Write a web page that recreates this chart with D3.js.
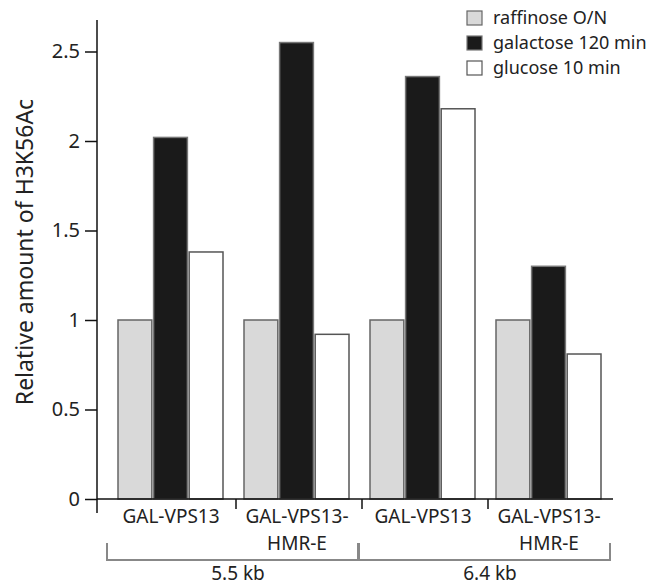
<!DOCTYPE html>
<html>
<head>
<meta charset="utf-8">
<script src="https://cdn.jsdelivr.net/npm/d3@7/dist/d3.min.js"></script>
<style>
  body { margin: 0; background: #fff; }
  text { font-family: "Noto Sans", "Open Sans", sans-serif; fill: #222; }
</style>
</head>
<body>
<div id="chart"></div>
<script>
// values
var groups = ["g1", "g2", "g3", "g4"];
var groupLabels = [["GAL-VPS13"], ["GAL-VPS13-", "HMR-E"], ["GAL-VPS13"], ["GAL-VPS13-", "HMR-E"]];
var series = ["raffinose O/N", "galactose 120 min", "glucose 10 min"];
var raffinose = [1.0, 1.0, 1.0, 1.0];
var galactose = [2.02, 2.55, 2.36, 1.30];
var glucose = [1.38, 0.92, 2.18, 0.81];
var brackets = [{label: "5.5 kb", from: 0, to: 1}, {label: "6.4 kb", from: 2, to: 3}];
var yTicks = [0, 0.5, 1, 1.5, 2, 2.5];

var fills = ["#d9d9d9", "#1a1a1a", "#ffffff"];
var strokes = ["#666", "#777", "#555"];

var width = 671, height = 586;
var svg = d3.select("#chart").append("svg")
    .attr("width", width)
    .attr("height", height);

var axisX = 97, baseY = 499;

var yScale = d3.scaleLinear().domain([0, 2.5]).range([baseY, 51.5]);
var xScale = d3.scaleBand().domain(groups).range([107, 611]).paddingInner(0);
var innerScale = d3.scaleBand().domain(series).range([11, 116]).paddingInner(0.05);

// bars
var rows = groups.map(function (g, i) {
    return {group: g, values: [raffinose[i], galactose[i], glucose[i]]};
});

var groupG = svg.selectAll(".grp")
    .data(rows)
    .enter()
    .append("g")
    .attr("class", "grp")
    .attr("transform", function (d) { return "translate(" + xScale(d.group) + ",0)"; });

groupG.selectAll("rect")
    .data(function (d) {
        return d.values.map(function (v, j) { return {s: series[j], v: v, j: j}; });
    })
    .enter()
    .append("rect")
    .attr("x", function (d) { return innerScale(d.s); })
    .attr("y", function (d) { return yScale(d.v); })
    .attr("width", innerScale.bandwidth())
    .attr("height", function (d) { return yScale(0) - yScale(d.v); })
    .attr("fill", function (d) { return fills[d.j]; })
    .attr("stroke", function (d) { return strokes[d.j]; })
    .attr("stroke-width", 1.5);

// y axis
var yAxis = svg.append("g")
    .attr("transform", "translate(" + axisX + ",0)")
    .call(d3.axisLeft(yScale).tickValues(yTicks).tickFormat(d3.format("")).tickSize(12).tickPadding(5).tickSizeOuter(0));
yAxis.select(".domain").remove();
yAxis.selectAll(".tick line").attr("stroke", "#111").attr("stroke-width", 1.5);
yAxis.selectAll(".tick text")
    .style("font-size", "20px")
    .attr("fill", "#222");

svg.append("line")
    .attr("x1", axisX).attr("x2", axisX)
    .attr("y1", 20).attr("y2", baseY + 14)
    .attr("stroke", "#111").attr("stroke-width", 1.5);

// x axis line and separators
svg.append("line")
    .attr("x1", axisX).attr("x2", 613)
    .attr("y1", baseY).attr("y2", baseY)
    .attr("stroke", "#111").attr("stroke-width", 1.5);

svg.selectAll(".sep")
    .data(groups.slice(1))
    .enter()
    .append("line")
    .attr("class", "sep")
    .attr("x1", function (d) { return xScale(d) + 3; })
    .attr("x2", function (d) { return xScale(d) + 3; })
    .attr("y1", baseY)
    .attr("y2", baseY + 10)
    .attr("stroke", "#111").attr("stroke-width", 1.5);

// group labels
var labelG = svg.selectAll(".glabel")
    .data(groups)
    .enter()
    .append("text")
    .attr("class", "glabel")
    .attr("text-anchor", "middle")
    .style("font-size", "19px");

labelG.selectAll("tspan")
    .data(function (d, i) { return groupLabels[i].map(function (t) { return {t: t, g: d}; }); })
    .enter()
    .append("tspan")
    .attr("x", function (d) { return xScale(d.g) + xScale.bandwidth() / 2 + 1; })
    .attr("y", function (d, i) { return 523 + i * 27; })
    .text(function (d) { return d.t; });

// brackets
var bracketG = svg.selectAll(".bracket")
    .data(brackets)
    .enter()
    .append("g")
    .attr("class", "bracket");

bracketG.append("path")
    .attr("d", function (d) {
        var x0 = xScale(groups[d.from]), x1 = xScale(groups[d.to]) + xScale.bandwidth() - 1;
        return "M" + x0 + ",543V560H" + x1 + "V543";
    })
    .attr("fill", "none")
    .attr("stroke", "#888")
    .attr("stroke-width", 2);

bracketG.append("text")
    .attr("x", function (d) {
        var x0 = xScale(groups[d.from]), x1 = xScale(groups[d.to]) + xScale.bandwidth();
        return (x0 + x1) / 2 + 5;
    })
    .attr("y", 580)
    .attr("text-anchor", "middle")
    .style("font-size", "19px")
    .text(function (d) { return d.label; });

// y label
svg.append("text")
    .attr("transform", "translate(33,252) rotate(-90)")
    .attr("text-anchor", "middle")
    .style("font-size", "23px")
    .text("Relative amount of H3K56Ac");

// legend
var legend = svg.selectAll(".legend")
    .data(series)
    .enter()
    .append("g")
    .attr("class", "legend")
    .attr("transform", function (d, i) { return "translate(467," + (11 + i * 25) + ")"; });

legend.append("rect")
    .attr("width", 15)
    .attr("height", 14)
    .attr("fill", function (d, i) { return fills[i]; })
    .attr("stroke", function (d, i) { return strokes[i]; })
    .attr("stroke-width", 1.2);

legend.append("text")
    .attr("x", 26)
    .attr("y", 13)
    .style("font-size", "18px")
    .text(function (d) { return d; });
</script>
</body>
</html>
